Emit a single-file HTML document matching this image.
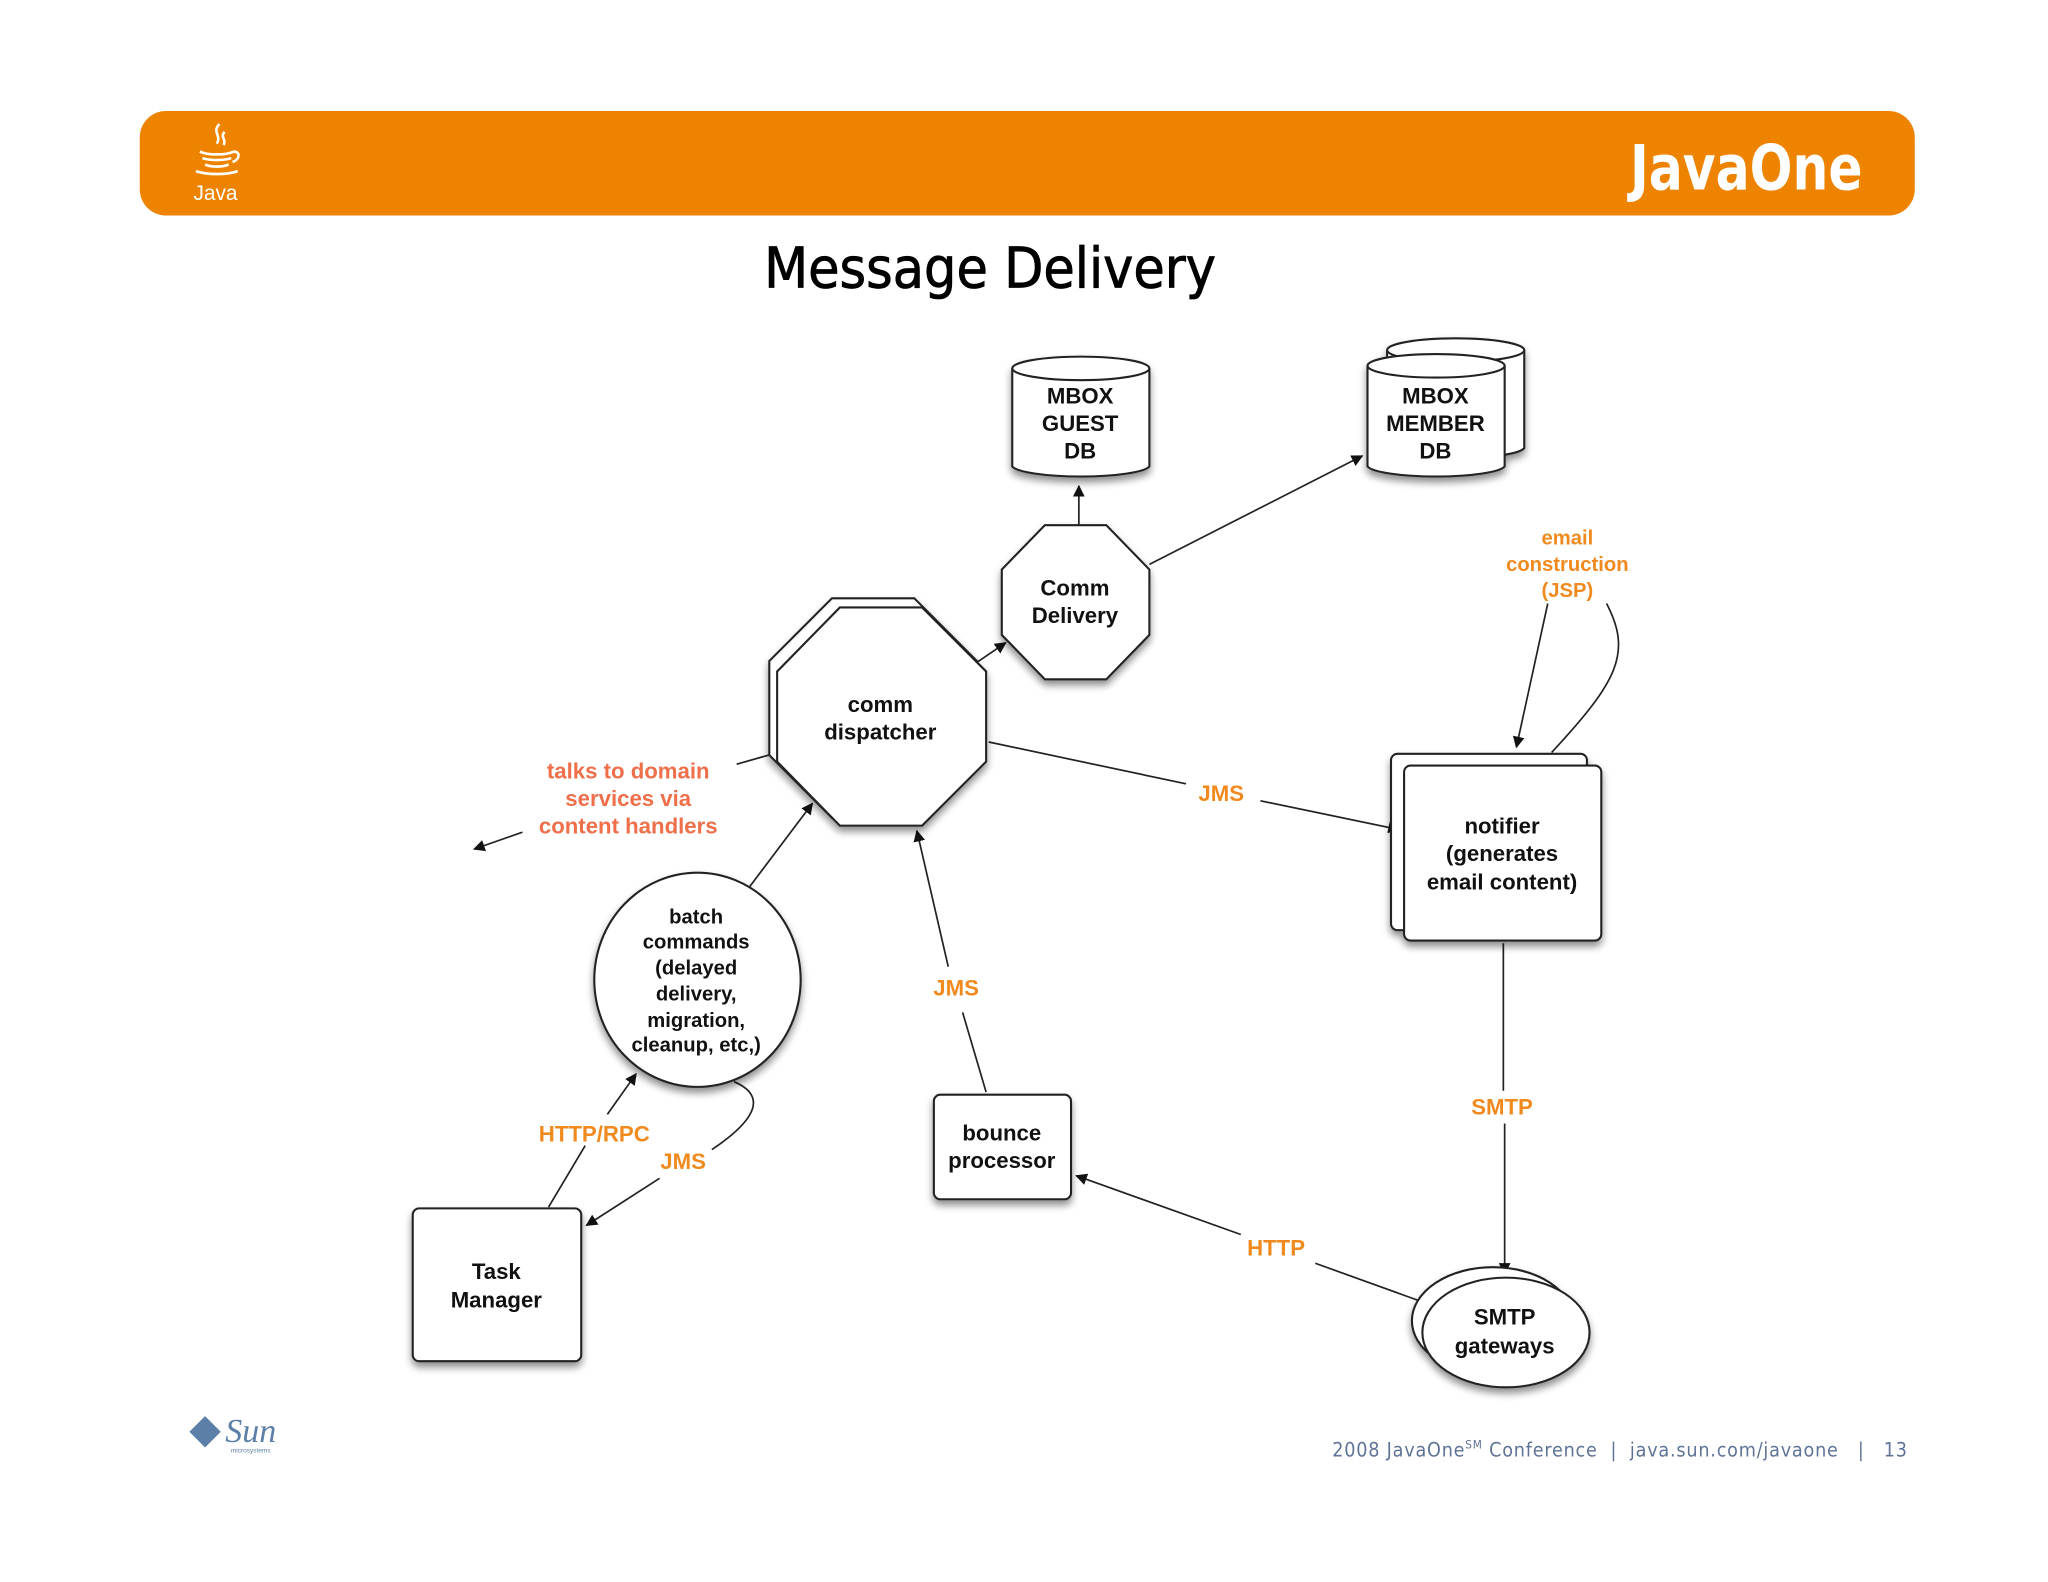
<!DOCTYPE html>
<html><head><meta charset="utf-8"><style>
html,body{margin:0;padding:0;background:#fff;width:2048px;height:1582px;overflow:hidden}
svg{display:block}
.n{font-family:"Liberation Sans",sans-serif;font-weight:bold;font-size:17px;fill:#111;text-anchor:middle}
.o{font-family:"Liberation Sans",sans-serif;font-weight:bold;font-size:17px;fill:#F08A1E;text-anchor:middle}
.s{font-family:"Liberation Sans",sans-serif;font-weight:bold;font-size:17px;fill:#EE6F4A;text-anchor:middle}
.sh{fill:#fff;stroke:#222;stroke-width:1.6}
.l{stroke:#222;stroke-width:1.3;fill:none}
</style></head><body>
<svg width="2048" height="1582" viewBox="0 0 1568 1211" preserveAspectRatio="none" xmlns="http://www.w3.org/2000/svg">
<defs>
<filter id="d" x="-20%" y="-20%" width="140%" height="150%"><feGaussianBlur in="SourceAlpha" stdDeviation="3"/><feOffset dx="0" dy="4"/><feComponentTransfer><feFuncA type="linear" slope="0.45"/></feComponentTransfer><feMerge><feMergeNode/><feMergeNode in="SourceGraphic"/></feMerge></filter>
<marker id="a" viewBox="0 0 10 10" refX="9" refY="5" markerWidth="9" markerHeight="9" markerUnits="userSpaceOnUse" orient="auto"><path d="M0,0L10,5L0,10z" fill="#111"/></marker>
</defs>
<rect x="107" y="85" width="1359" height="80" rx="20" fill="#EE8300"/>
<g fill="none" stroke="#fff" stroke-width="2">
<path d="M168,95c-6,6 2,9 -2,15"/><path d="M172,101c-4,4 2,6 -1,10"/>
<path d="M153,116c6,3 20,3 26,0"/><path d="M155,121c5,2 17,2 22,0"/><path d="M157,126c4,2 14,2 18,0"/><path d="M150,131c8,3 24,3 32,0"/><path d="M179,116c5,0 5,6 -1,8"/>
</g>
<text x="165" y="153" font-family="Liberation Sans,sans-serif" font-size="16" fill="#fff" text-anchor="middle">Java</text>
<text x="1337" y="145" font-family="DejaVu Sans Condensed,Liberation Sans,sans-serif" font-weight="bold" font-size="48" fill="#fff" text-anchor="middle" textLength="178" lengthAdjust="spacingAndGlyphs">JavaOne</text>
<text x="758" y="220" font-family="DejaVu Sans Condensed,Liberation Sans,sans-serif" font-size="43" fill="#000" stroke="#000" stroke-width="0.6" text-anchor="middle" textLength="346" lengthAdjust="spacingAndGlyphs">Message Delivery</text>

<line class="l" x1="826" y1="402" x2="826" y2="372" marker-end="url(#a)"/>
<line class="l" x1="880" y1="432" x2="1043" y2="349" marker-end="url(#a)"/>
<line class="l" x1="748" y1="507" x2="770" y2="492" marker-end="url(#a)"/>
<line class="l" x1="757" y1="568" x2="908" y2="600"/>
<line class="l" x1="965" y1="613" x2="1071" y2="635" marker-end="url(#a)"/>
<line class="l" x1="1185" y1="462" x2="1161" y2="572" marker-end="url(#a)"/>
<path class="l" d="M1230,462 C1250,500 1238,522 1188,576"/>
<line class="l" x1="592" y1="577" x2="564" y2="585"/>
<line class="l" x1="400" y1="637" x2="363" y2="650" marker-end="url(#a)"/>
<line class="l" x1="573" y1="680" x2="622" y2="615" marker-end="url(#a)"/>
<line class="l" x1="755" y1="836" x2="737" y2="775"/>
<line class="l" x1="726" y1="740" x2="702" y2="636" marker-end="url(#a)"/>
<line class="l" x1="420" y1="924" x2="448" y2="877"/>
<line class="l" x1="465" y1="853" x2="487" y2="822" marker-end="url(#a)"/>
<path class="l" d="M562,828 C590,840 575,860 545,880"/>
<line class="l" x1="505" y1="902" x2="449" y2="938" marker-end="url(#a)"/>
<line class="l" x1="1151" y1="722" x2="1151" y2="835"/>
<line class="l" x1="1152" y1="860" x2="1152" y2="975" marker-end="url(#a)"/>
<line class="l" x1="1093" y1="998" x2="1007" y2="967"/>
<line class="l" x1="950" y1="945" x2="824" y2="900" marker-end="url(#a)"/>

<g filter="url(#d)">
<path class="sh" d="M775,282 v75 a53,9 0 0 0 105,0 v-75"/><ellipse class="sh" cx="827.5" cy="282" rx="52.5" ry="9"/>
<path class="sh" d="M1062,268 v75 a53,9 0 0 0 105,0 v-75"/><ellipse class="sh" cx="1114.5" cy="268" rx="52.5" ry="9"/>
<path class="sh" d="M1047,280 v77 a53,9 0 0 0 105,0 v-77"/><ellipse class="sh" cx="1099.5" cy="280" rx="52.5" ry="9"/>
<polygon class="sh" points="800,402 847,402 880,436 880,486 847,520 800,520 767,486 767,436"/>
<polygon class="sh" points="637,458 700,458 748,506 748,578 700,626 637,626 589,578 589,506"/>
<polygon class="sh" points="643,465 706,465 755,514 755,583 706,632 643,632 595,583 595,514"/>
<rect class="sh" x="1065" y="577" width="150" height="135" rx="5"/>
<rect class="sh" x="1075" y="586" width="151" height="134" rx="5"/>
<ellipse class="sh" cx="534" cy="750" rx="79" ry="82"/>
<rect class="sh" x="715" y="838" width="105" height="80" rx="5"/>
<rect class="sh" x="316" y="925" width="129" height="117" rx="5"/>
<ellipse class="sh" cx="1143" cy="1011" rx="62" ry="41"/>
<ellipse class="sh" cx="1153" cy="1020" rx="64" ry="42"/>
</g>

<text class="n" x="827" y="309">MBOX</text><text class="n" x="827" y="330">GUEST</text><text class="n" x="827" y="351">DB</text>
<text class="n" x="1099" y="309">MBOX</text><text class="n" x="1099" y="330">MEMBER</text><text class="n" x="1099" y="351">DB</text>
<text class="n" x="823" y="456">Comm</text><text class="n" x="823" y="477">Delivery</text>
<text class="n" x="674" y="545">comm</text><text class="n" x="674" y="566">dispatcher</text>
<text class="n" x="1150" y="638">notifier</text><text class="n" x="1150" y="659">(generates</text><text class="n" x="1150" y="681">email content)</text>
<text class="n" x="533" y="707" style="font-size:15.5px">batch</text><text class="n" x="533" y="726" style="font-size:15.5px">commands</text><text class="n" x="533" y="746" style="font-size:15.5px">(delayed</text><text class="n" x="533" y="766" style="font-size:15.5px">delivery,</text><text class="n" x="533" y="786" style="font-size:15.5px">migration,</text><text class="n" x="533" y="805" style="font-size:15.5px">cleanup, etc,)</text>
<text class="n" x="767" y="873">bounce</text><text class="n" x="767" y="894">processor</text>
<text class="n" x="380" y="979">Task</text><text class="n" x="380" y="1001">Manager</text>
<text class="n" x="1152" y="1014">SMTP</text><text class="n" x="1152" y="1036">gateways</text>

<text class="o" x="935" y="613">JMS</text>
<text class="o" x="1200" y="417" style="font-size:15.5px">email</text><text class="o" x="1200" y="437" style="font-size:15.5px">construction</text><text class="o" x="1200" y="457" style="font-size:15.5px">(JSP)</text>
<text class="s" x="481" y="596">talks to domain</text><text class="s" x="481" y="617">services via</text><text class="s" x="481" y="638">content handlers</text>
<text class="o" x="732" y="762">JMS</text>
<text class="o" x="455" y="874">HTTP/RPC</text>
<text class="o" x="523" y="895">JMS</text>
<text class="o" x="1150" y="853">SMTP</text>
<text class="o" x="977" y="961">HTTP</text>

<polygon points="157,1084 169,1096 157,1108 145,1096" fill="#5b7fa6"/>
<text x="192" y="1104" font-family="Liberation Serif,serif" font-style="italic" font-size="26" fill="#5b7fa6" text-anchor="middle">Sun</text>
<text x="192" y="1112" font-family="Liberation Sans,sans-serif" font-size="5" fill="#5b7fa6" text-anchor="middle">microsystems</text>
<text x="1020" y="1115" font-family="DejaVu Sans Condensed,Liberation Sans,sans-serif" font-size="15" fill="#5f7396" xml:space="preserve" textLength="440" lengthAdjust="spacing">2008 JavaOne<tspan font-size="9" dy="-6">SM</tspan><tspan dy="6"> Conference  |  java.sun.com/javaone   |   13</tspan></text>
</svg>
</body></html>
